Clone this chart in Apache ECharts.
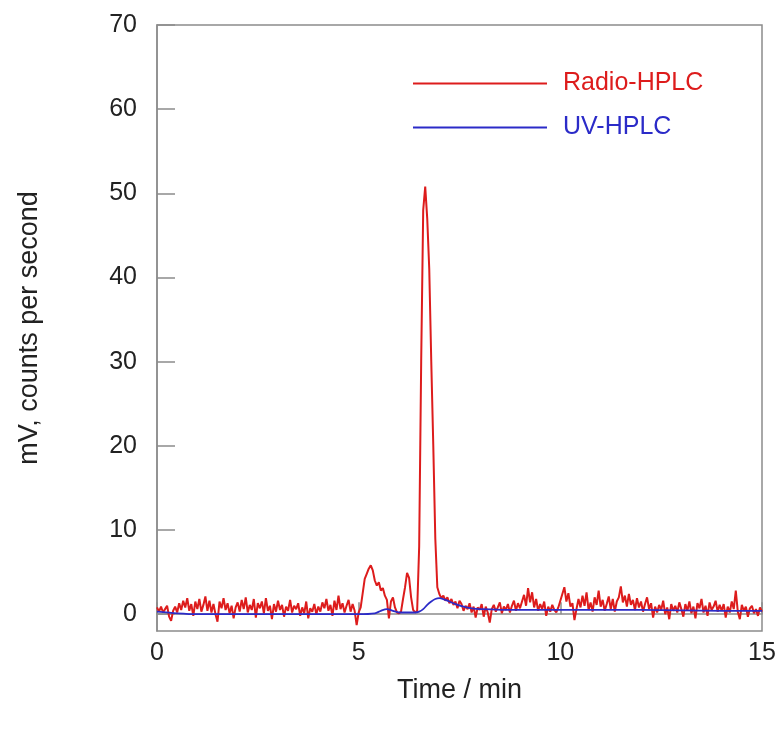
<!DOCTYPE html>
<html>
<head>
<meta charset="utf-8">
<script src="https://cdn.jsdelivr.net/npm/echarts@6/dist/echarts.min.js"></script>
<style>html,body{margin:0;padding:0;background:#fff}#c{width:780px;height:733px}</style>
</head>
<body>
<div id="c"></div>
<script>
// Radio-HPLC sampled every 0.05 min, one row per minute
var radioStep = 0.05;
var radioMin0  = [0.8, 0.3, 0.9, 0.2, 0.6, 1.0, -0.3, -0.8, 0.4, 0.9, 0.2, 1.3, 0.5, 1.6, 0.8, 1.9, 0.4, 1.2, -0.2, 1.5];
var radioMin1  = [0.6, 1.8, 0.3, 1.1, 2.1, 0.4, 1.6, 0.2, 1.2, 0.0, -0.9, 1.5, 0.7, 1.9, 0.5, 1.3, 0.1, 1.0, -0.5, 0.8];
var radioMin2  = [1.4, 0.3, 1.7, 0.6, 2.0, 0.2, 1.1, 0.5, 1.8, -0.4, 1.3, 0.7, 1.5, 0.1, 1.9, 0.4, 1.0, -0.6, 1.2, 0.3];
var radioMin3  = [1.6, 0.5, 1.1, -0.3, 0.9, 0.4, 1.7, 0.2, 1.0, 0.6, 1.3, -0.2, 0.8, 0.1, 1.5, -0.5, 0.7, 0.3, 1.2, 0.0];
var radioMin4  = [0.9, 0.3, 1.4, 0.7, 1.8, 0.4, 1.1, -0.2, 1.6, 0.5, 2.2, 0.6, 1.3, 0.2, 1.0, 1.7, 0.3, 1.2, 0.4, -1.3];
var radioMin5  = [0.2, 0.8, 2.5, 4.2, 4.8, 5.4, 5.8, 5.2, 4.0, 3.4, 3.8, 2.8, 3.1, 2.2, 1.7, -0.5, 1.5, 2.0, 0.8, 0.2];
var radioMin6  = [0.1, 0.3, 1.8, 3.2, 4.9, 4.3, 2.0, 0.5, 0.2, 0.4, 8.0, 30.0, 48.0, 50.8, 47.0, 41.0, 30.0, 20.0, 9.0, 3.2];
var radioMin7  = [2.4, 1.9, 2.2, 1.6, 2.0, 1.3, 1.8, 1.1, 1.5, 0.7, 1.6, 1.2, 0.4, 1.0, 0.6, 1.3, 0.2, 0.9, -0.4, 0.8];
var radioMin8  = [0.5, 1.2, -0.3, 0.9, 0.2, -1.0, 0.6, 1.1, 0.3, 0.8, 1.4, 0.1, 0.9, 0.5, 1.2, 0.2, 1.0, 1.6, 0.4, 1.3];
var radioMin9  = [0.7, 1.5, 2.3, 1.0, 3.1, 1.4, 2.6, 0.8, 1.8, 0.4, 1.2, 0.6, 1.5, -0.2, 0.9, 0.3, 1.1, 0.5, 0.2, 0.8];
var radioMin10 = [1.6, 2.4, 3.2, 1.5, 2.5, 0.9, 1.3, -0.7, 0.6, 1.8, 0.8, 2.2, 1.0, 2.6, 0.5, 1.4, 0.3, 2.0, 1.1, 2.8];
var radioMin11 = [0.9, 1.7, 0.4, 1.2, 2.1, 0.6, 1.8, 0.3, 1.5, 2.0, 3.3, 1.4, 2.2, 0.9, 2.4, 1.1, 1.7, 0.5, 1.9, 0.8];
var radioMin12 = [1.5, 0.3, 1.2, 2.0, 0.6, 1.3, -0.4, 0.9, 0.2, 1.1, 0.5, 1.6, 0.0, 0.8, -0.6, 1.2, 0.4, 1.0, 0.2, 1.4];
var radioMin13 = [0.6, -0.3, 1.2, 0.4, 1.5, 0.1, 0.9, -0.5, 1.3, 0.7, 1.8, 0.2, 1.0, -0.2, 1.4, 0.5, 0.9, 1.6, 0.3, 1.1];
var radioMin14 = [0.4, 1.2, -0.4, 0.9, 0.2, 1.5, 0.6, 2.8, 0.3, -0.6, 1.1, 0.4, 0.9, -0.3, 0.7, 1.0, 0.1, 0.6, -0.2, 0.8];
var radioEnd   = [0.3];

// UV-HPLC trace (time, value)
var uvTime = [0, 0.5, 1, 2, 3, 4, 5, 5.4, 5.55, 5.7, 5.85, 6.0, 6.4, 6.5, 6.6, 6.7, 6.8, 6.9, 7.0, 7.1, 7.2, 7.4, 7.6, 7.8, 8.0, 9, 10, 11, 12, 13, 14, 15];
var uvVal  = [0.3, 0.1, 0.0, 0.0, 0.0, 0.0, 0.0, 0.1, 0.4, 0.6, 0.4, 0.2, 0.2, 0.3, 0.6, 1.1, 1.5, 1.8, 1.9, 1.8, 1.6, 1.2, 0.9, 0.7, 0.6, 0.5, 0.5, 0.5, 0.5, 0.45, 0.4, 0.4];

var yTicks = [0, 10, 20, 30, 40, 50, 60, 70];
var xTicks = [0, 5, 10, 15];

var radioVals = [].concat(radioMin0, radioMin1, radioMin2, radioMin3, radioMin4, radioMin5, radioMin6, radioMin7,
  radioMin8, radioMin9, radioMin10, radioMin11, radioMin12, radioMin13, radioMin14, radioEnd);
var radioData = radioVals.map(function (v, i) { return [+(i * radioStep).toFixed(2), v]; });
var uvData = uvTime.map(function (t, i) { return [t, uvVal[i]]; });

var RED = '#dd1c1c', BLUE = '#2b2bc8', AX = '#8c8c8c', TXT = '#222';
var FONT = 'Liberation Sans, Arial, sans-serif';
var chart = echarts.init(document.getElementById('c'));
chart.setOption({
  animation: false,
  backgroundColor: '#fff',
  textStyle: { fontFamily: FONT },
  grid: { left: 157, right: 18, top: 25, bottom: 102, show: true, borderColor: AX, borderWidth: 1.5 },
  legend: {
    left: 408, top: 66, orient: 'vertical', itemGap: 19,
    icon: 'rect', itemWidth: 134, itemHeight: 2,
    textStyle: { fontSize: 25, fontFamily: FONT, padding: [0, 0, 0, 11] },
    data: [
      { name: 'Radio-HPLC', textStyle: { color: RED } },
      { name: 'UV-HPLC', textStyle: { color: BLUE } }
    ]
  },
  xAxis: {
    type: 'value', min: 0, max: 15, interval: 5,
    name: 'Time / min', nameLocation: 'middle', nameGap: 46,
    nameTextStyle: { fontSize: 27, color: TXT },
    axisLine: { lineStyle: { color: AX, width: 1.5 } },
    axisTick: { inside: true, length: 12, lineStyle: { color: AX, width: 1.5 }, customValues: xTicks },
    axisLabel: { fontSize: 25, color: TXT, margin: 10, customValues: xTicks },
    splitLine: { show: false }
  },
  yAxis: {
    type: 'value', min: -2, max: 70,
    name: 'mV, counts per second', nameLocation: 'middle', nameGap: 114, nameRotate: 90,
    nameTextStyle: { fontSize: 27, color: TXT },
    axisLine: { lineStyle: { color: AX, width: 1.5 } },
    axisTick: { inside: true, length: 18, lineStyle: { color: AX, width: 1.5 }, customValues: yTicks },
    axisLabel: { fontSize: 25, color: TXT, margin: 20, customValues: yTicks },
    splitLine: { show: false }
  },
  series: [
    { name: 'Radio-HPLC', type: 'line', data: radioData, symbol: 'none', color: RED,
      lineStyle: { color: RED, width: 2 } },
    { name: 'UV-HPLC', type: 'line', data: uvData, symbol: 'none', smooth: 0.3, color: BLUE,
      lineStyle: { color: BLUE, width: 1.8 } }
  ]
});
</script>
</body>
</html>
